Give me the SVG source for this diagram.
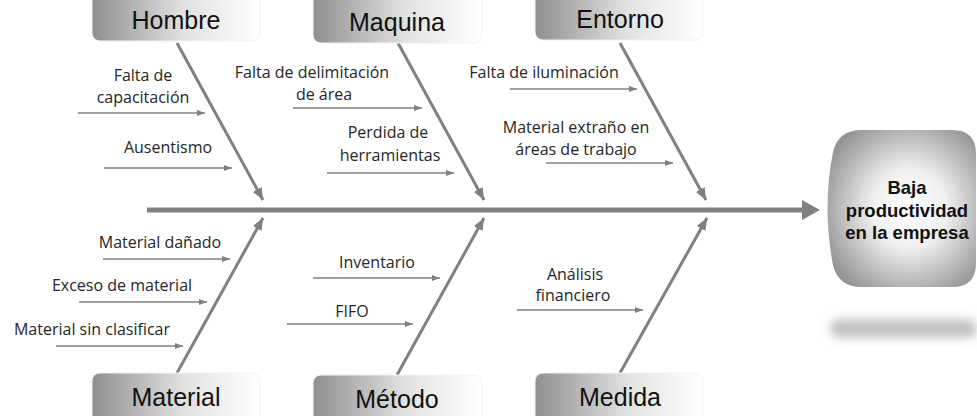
<svg xmlns="http://www.w3.org/2000/svg" width="977" height="416" viewBox="0 0 977 416">
<defs>
<linearGradient id="boxg" x1="0" y1="0" x2="1" y2="0">
<stop offset="0" stop-color="#8f8f8f"/>
<stop offset="0.55" stop-color="#e2e2e2"/>
<stop offset="1" stop-color="#ffffff"/>
</linearGradient>
<radialGradient id="effg" cx="0.55" cy="0.5" r="0.62">
<stop offset="0" stop-color="#ffffff"/>
<stop offset="0.4" stop-color="#f0f0f0"/>
<stop offset="1" stop-color="#959595"/>
</radialGradient>
<filter id="blur" x="-20%" y="-100%" width="140%" height="300%">
<feGaussianBlur stdDeviation="5"/>
</filter>
<marker id="sm" viewBox="0 0 8 6" refX="8" refY="3" markerWidth="8" markerHeight="6" markerUnits="userSpaceOnUse" orient="auto">
<path d="M0,0 L8,3 L0,6 Z" fill="#808080"/>
</marker>
<marker id="big" viewBox="0 0 12 10" refX="12" refY="5" markerWidth="12" markerHeight="10" markerUnits="userSpaceOnUse" orient="auto">
<path d="M0,0 L12,5 L0,10 Z" fill="#808080"/>
</marker>
</defs>
<style>
.box{fill:url(#boxg);stroke:#f2f2f2;stroke-width:1}
.title{font-family:"Liberation Sans",Arial,sans-serif;font-size:25px;fill:#111;text-anchor:middle}
.lbl{font-family:"Open Sans","Liberation Sans",sans-serif;font-size:16px;fill:#262626;text-anchor:middle}
.small{stroke:#808080;stroke-width:1.6;fill:none;marker-end:url(#sm)}
.bone{stroke:#808080;stroke-width:3;fill:none;marker-end:url(#big)}
.eff{font-family:"Liberation Sans",Arial,sans-serif;font-size:18.5px;font-weight:bold;fill:#111;text-anchor:middle}
</style>
<rect width="977" height="416" fill="#ffffff"/>

<g id="connectors">
<line x1="147" y1="210" x2="804" y2="210" stroke="#808080" stroke-width="5"/>
<path d="M802,200 L820,210 L802,220 Z" fill="#808080"/>
<line class="bone" x1="177" y1="43" x2="263" y2="200"/>
<line class="bone" x1="398" y1="43" x2="484" y2="200"/>
<line class="bone" x1="620" y1="43" x2="706" y2="200"/>
<line class="bone" x1="177" y1="373" x2="263" y2="218"/>
<line class="bone" x1="397" y1="375" x2="484" y2="218"/>
<line class="bone" x1="620" y1="373" x2="707" y2="218"/>
<line class="small" x1="78" y1="113" x2="205" y2="113"/>
<line class="small" x1="104" y1="168" x2="232" y2="168"/>
<line class="small" x1="293" y1="108" x2="422" y2="108"/>
<line class="small" x1="327" y1="173" x2="454" y2="173"/>
<line class="small" x1="510" y1="89" x2="637" y2="89"/>
<line class="small" x1="546" y1="163" x2="673" y2="163"/>
<line class="small" x1="103" y1="259" x2="230" y2="259"/>
<line class="small" x1="79" y1="302" x2="207" y2="302"/>
<line class="small" x1="56" y1="346" x2="183" y2="346"/>
<line class="small" x1="313" y1="278" x2="440" y2="278"/>
<line class="small" x1="287" y1="324" x2="413" y2="324"/>
<line class="small" x1="517" y1="310" x2="643" y2="310"/>
</g>

<g id="hombre">
<rect class="box" x="92" y="-12" width="168" height="53" rx="8"/>
<text class="title" x="176" y="29">Hombre</text>
<text class="lbl" x="143" y="81">Falta de</text>
<text class="lbl" x="143" y="103">capacitación</text>
<text class="lbl" x="168" y="153">Ausentismo</text>
</g>

<g id="maquina">
<rect class="box" x="313" y="-12" width="169" height="55" rx="8"/>
<text class="title" x="397" y="31">Maquina</text>
<text class="lbl" x="312" y="78">Falta de delimitación</text>
<text class="lbl" x="324" y="100">de área</text>
<text class="lbl" x="388" y="138">Perdida de</text>
<text class="lbl" x="390" y="161">herramientas</text>
</g>

<g id="entorno">
<rect class="box" x="535" y="-12" width="168" height="52" rx="8"/>
<text class="title" x="620" y="28">Entorno</text>
<text class="lbl" x="544" y="78">Falta de iluminación</text>
<text class="lbl" x="576" y="133">Material extraño en</text>
<text class="lbl" x="576" y="155">áreas de trabajo</text>
</g>

<g id="material">
<rect class="box" x="92" y="373" width="168" height="55" rx="8"/>
<text class="title" x="176" y="406">Material</text>
<text class="lbl" x="160" y="248">Material dañado</text>
<text class="lbl" x="122" y="291">Exceso de material</text>
<text class="lbl" x="92" y="335">Material sin clasificar</text>
</g>

<g id="metodo">
<rect class="box" x="313" y="375" width="169" height="55" rx="8"/>
<text class="title" x="397" y="408">Método</text>
<text class="lbl" x="377" y="268">Inventario</text>
<text class="lbl" x="352" y="317">FIFO</text>
</g>

<g id="medida">
<rect class="box" x="535" y="373" width="168" height="55" rx="8"/>
<text class="title" x="620" y="406">Medida</text>
<text class="lbl" x="575" y="280">Análisis</text>
<text class="lbl" x="573" y="301">financiero</text>
</g>

<g id="efecto">
<rect x="830" y="319" width="147" height="19" rx="9" fill="#c4c4c4" filter="url(#blur)"/>
<path d="M862,130 L952,130 Q976,130 976,154 L976,263 Q976,287 952,287 L862,287 Q838,287 833,265 Q822,208 833,152 Q838,130 862,130 Z" fill="url(#effg)"/>
<text class="eff" x="907" y="194">Baja</text>
<text class="eff" x="907" y="217">productividad</text>
<text class="eff" x="907" y="239">en la empresa</text>
</g>
</svg>
